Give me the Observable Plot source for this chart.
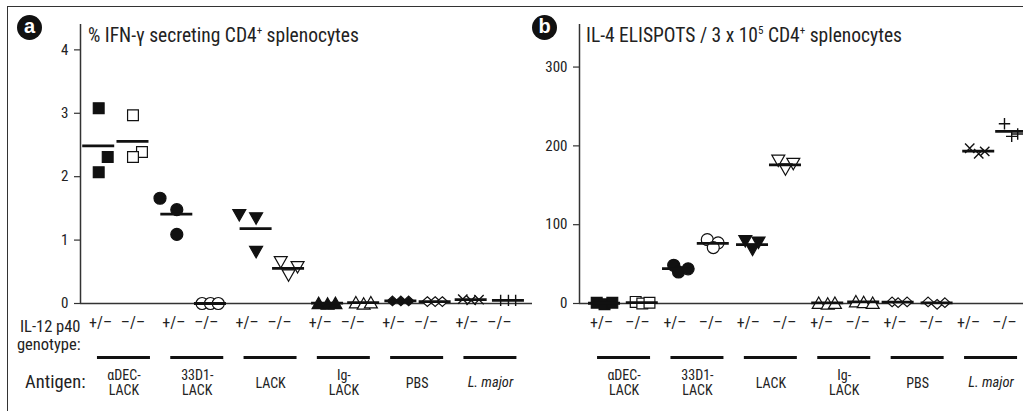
<!DOCTYPE html>
<html>
<head>
<meta charset="utf-8">
<script src="https://cdn.jsdelivr.net/npm/d3@7"></script>
<script src="https://cdn.jsdelivr.net/npm/@observablehq/plot@0.6"></script>
<style>
  body { margin: 0; background: #fff; }
  #fig { position: relative; width: 1023px; height: 411px; overflow: hidden;
         font-family: "Liberation Sans Narrow", "Roboto Condensed", "DejaVu Sans Condensed", "Arial Narrow", sans-serif; color: #222; }
  #frame { position: absolute; left: 7px; top: 6px; width: 1100px; height: 500px;
           border-top: 1.5px solid #333; border-left: 1.5px solid #333; }
  .panel { position: absolute; top: 0; }
  .badge { position: absolute; width: 25px; height: 25px; border-radius: 50%; background: #111; color: #fff;
           font: bold 20px "Liberation Sans", Arial, sans-serif; text-align: center; line-height: 23px; }
  .title { position: absolute; top: 25px; font-size: 19.5px; line-height: 22px; white-space: nowrap; }
  .title sup { font-size: 11px; vertical-align: 8px; line-height: 0; }
</style>
</head>
<body>
<div id="fig">
  <div id="frame"></div>
  <div id="pa" class="panel" style="left:0px"></div>
  <div id="pb" class="panel" style="left:530px"></div>
  <div class="badge" style="left:17px; top:15px">a</div>
  <div class="badge" style="left:532px; top:15px">b</div>
  <div class="title" style="left:88px">% IFN-γ secreting CD4<sup>+</sup> splenocytes</div>
  <div class="title" style="left:586px">IL-4 ELISPOTS / 3 x 10<sup>5</sup> CD4<sup>+</sup> splenocytes</div>
</div>
<script>
// ---------------- data ----------------
const antigens = ["αDEC-\nLACK", "33D1-\nLACK", "LACK", "Ig-\nLACK", "PBS", "L. major"];
const italicAntigens = ["L. major"];
const genotypes = ["+/–", "–/–"];
const genotypeTitle = "IL-12 p40\ngenotype:";
const antigenTitle = "Antigen:";
const ifnTicks = [0, 1, 2, 3, 4];
const il4Ticks = [0, 100, 200, 300];

// replicate mice per column; columns ordered antigen by antigen, +/– then –/–
const ifnValues = [
  [3.08, 2.31, 2.07], [2.97, 2.39, 2.31],
  [1.66, 1.48, 1.09], [0.0, 0.0, 0.0],
  [1.39, 1.34, 0.81], [0.65, 0.57, 0.44],
  [0.01, 0.0, 0.01], [0.02, 0.0, 0.02],
  [0.04, 0.04, 0.04], [0.03, 0.03, 0.03],
  [0.07, 0.05, 0.06], [0.05, 0.05, 0.05]
];
// horizontal scatter of replicates (in marker widths)
const ifnJitter = [
  [-0.15, 0.6, -0.15], [0, 0.75, 0],
  [-1.15, 0.25, 0.25], [-0.35, 0.35, 1],
  [-0.65, 0.75, 0.75], [0.1, 1.5, 0.75],
  [-0.15, 0.6, 1.25], [0.25, 0.9, 1.5],
  [-0.1, 0.6, 1.25], [0.1, 0.75, 1.35],
  [-0.35, 0.35, 1], [0.1, 0.75, 1.35]
];
const il4Values = [
  [1, -1, 1], [2, 0, 1],
  [48.5, 40, 44], [81, 77, 71],
  [79, 77, 68], [181, 177, 170],
  [1, 0, 1], [3, 2, 1],
  [2, 1, 2], [2, -1, 1],
  [197, 190, 193], [228, 212, 215]
];
const il4Jitter = [
  [-0.4, 0.25, 0.9], [-0.15, 0.4, 1],
  [-0.1, 0.3, 1.1], [-0.3, 0.6, 0.2],
  [-0.25, 0.85, 0.35], [-0.5, 0.75, 0.1],
  [-0.25, 0.5, 1.1], [-0.15, 0.5, 1.25],
  [-0.25, 0.25, 1], [-0.25, 0.5, 1.15],
  [0.1, 0.85, 1.35], [0, 0.6, 1.1]
];

// ---------------- symbols (styles) ----------------
const R = (s) => Math.sqrt(s / Math.PI);
const sym = {
  square: { draw(c, s) { const r = R(s) * 0.9; c.rect(-r, -r, 2 * r, 2 * r); } },
  circle: { draw(c, s) { const r = R(s); c.moveTo(r, 0); c.arc(0, 0, r, 0, 2 * Math.PI); c.closePath(); } },
  triUp: { draw(c, s) { const r = R(s), w = 1.08 * r, h = 0.95 * r; c.moveTo(0, -h); c.lineTo(w, h); c.lineTo(-w, h); c.closePath(); } },
  triDown: { draw(c, s) { const r = R(s), w = 1.08 * r, h = 0.95 * r; c.moveTo(0, h); c.lineTo(w, -h); c.lineTo(-w, -h); c.closePath(); } },
  diamond: { draw(c, s) { const r = R(s), w = 0.88 * r, h = 0.8 * r; c.moveTo(0, -h); c.lineTo(w, 0); c.lineTo(0, h); c.lineTo(-w, 0); c.closePath(); } },
  times: { draw(c, s) { const r = R(s) * 0.78; c.moveTo(-r, -r); c.lineTo(r, r); c.moveTo(r, -r); c.lineTo(-r, r); } },
  plus: { draw(c, s) { const r = R(s) * 0.95; c.moveTo(-r, 0); c.lineTo(r, 0); c.moveTo(0, -r); c.lineTo(0, r); } }
};
const F = (shape) => ({ shape, fill: "#111" });
const O = (shape) => ({ shape, fill: "white" });
const S = (shape) => ({ shape, fill: "none" });
const markersA = [F("square"), O("square"), F("circle"), O("circle"), F("triDown"), O("triDown"),
                  F("triUp"), O("triUp"), F("diamond"), O("diamond"), S("times"), S("plus")];
const markersB = [F("square"), O("square"), F("circle"), O("circle"), F("triDown"), O("triDown"),
                  O("triUp"), O("triUp"), O("diamond"), O("diamond"), S("times"), S("plus")];

const FONT = '"Liberation Sans Narrow", "Roboto Condensed", "DejaVu Sans Condensed", "Arial Narrow", sans-serif';

function panel(cfg) {
  const { values, jitter, markers, ticks, yMax, width, marginLeft, marginRight, xDomain, pair, barShift, leftLabels } = cfg;
  const unit = (width - marginLeft - marginRight) / (xDomain[1] - xDomain[0]); // px per group
  const mw = 12 / unit; // one marker width in x units
  const halfMean = 16 / unit;
  const halfBar = 26.5 / unit;
  const pts = [], means = [];
  values.forEach((vals, c) => {
    const g = Math.floor(c / 2), k = c % 2;
    const cx = g + k * pair;
    vals.forEach((v, i) => pts.push({ c, x: cx + jitter[c][i] * mw, v }));
    const mx = cx + d3.median(jitter[c]) * mw;
    means.push({ m: d3.mean(vals), x1: mx - halfMean, x2: mx + halfMean });
  });
  const cols = d3.range(values.length).map(c => ({ x: Math.floor(c / 2) + (c % 2) * pair, t: genotypes[c % 2] }));
  const groups = antigens.map((a, g) => ({ x: g + barShift, x1: g + barShift - halfBar, x2: g + barShift + halfBar, a }));

  const marks = [
    Plot.ruleY([0], { stroke: "#333", strokeWidth: 1.5 }),
    Plot.ruleX([xDomain[0]], { y1: 0, y2: yMax, stroke: "#333", strokeWidth: 1.5 }),
    Plot.axisY(ticks, { tickSize: 6, tickPadding: 6, fontSize: 15, stroke: "#333", fill: "#222", label: null, strokeWidth: 1.2, tickFormat: d3.format("d") }),
    ...markers.map((mk, c) => Plot.dot(pts.filter(d => d.c === c), {
      x: "x", y: "v", r: 6, symbol: sym[mk.shape], fill: mk.fill, stroke: "#111",
      strokeWidth: mk.fill === "none" ? 1.4 : 1.2
    })),
    Plot.ruleY(means, { y: "m", x1: "x1", x2: "x2", stroke: "#111", strokeWidth: 2.8 }),
    Plot.text(cols, { x: "x", text: "t", frameAnchor: "bottom", dy: 24, fontSize: 16, fill: "#222" }),
    Plot.ruleY(groups, { y: () => 0, x1: "x1", x2: "x2", dy: 54, stroke: "#111", strokeWidth: 3 }),
    Plot.text(groups.filter(d => !italicAntigens.includes(d.a)), { x: "x", text: "a", frameAnchor: "bottom", dy: 79, lineAnchor: "middle", fontSize: 14, lineHeight: 1.12, fill: "#222" }),
    Plot.text(groups.filter(d => italicAntigens.includes(d.a)), { x: "x", text: "a", frameAnchor: "bottom", dy: 79, lineAnchor: "middle", fontSize: 14.5, fontStyle: "italic", fill: "#222" })
  ];
  if (leftLabels) {
    marks.push(Plot.text([genotypeTitle], { frameAnchor: "bottom-left", textAnchor: "end", dx: 0, dy: 31.5, lineAnchor: "middle", fontSize: 16.5, lineHeight: 1.1, fill: "#222" }));
    marks.push(Plot.text([antigenTitle], { frameAnchor: "bottom-left", textAnchor: "end", dx: 5, dy: 79, lineAnchor: "middle", fontSize: 18.5, fill: "#222" }));
  }
  return Plot.plot({
    width, height: 411, marginLeft, marginRight, marginTop: 24, marginBottom: 108,
    x: { domain: xDomain, axis: null },
    y: { domain: [0, yMax], axis: null },
    style: { fontFamily: FONT, fontSize: "15px", color: "#222", background: "transparent", overflow: "visible" },
    marks
  });
}

document.getElementById("pa").appendChild(panel({
  values: ifnValues, jitter: ifnJitter, markers: markersA, ticks: ifnTicks, yMax: 4.4,
  width: 540, marginLeft: 80, marginRight: 8, xDomain: [-0.273, 5.894], pair: 0.443, barShift: 0.32, leftLabels: true
}));
document.getElementById("pb").appendChild(panel({
  values: il4Values, jitter: il4Jitter, markers: markersB, ticks: il4Ticks, yMax: 354,
  width: 493, marginLeft: 49, marginRight: 0, xDomain: [-0.3, 5.749], pair: 0.49, barShift: 0.307, leftLabels: false
}));
</script>
</body>
</html>
